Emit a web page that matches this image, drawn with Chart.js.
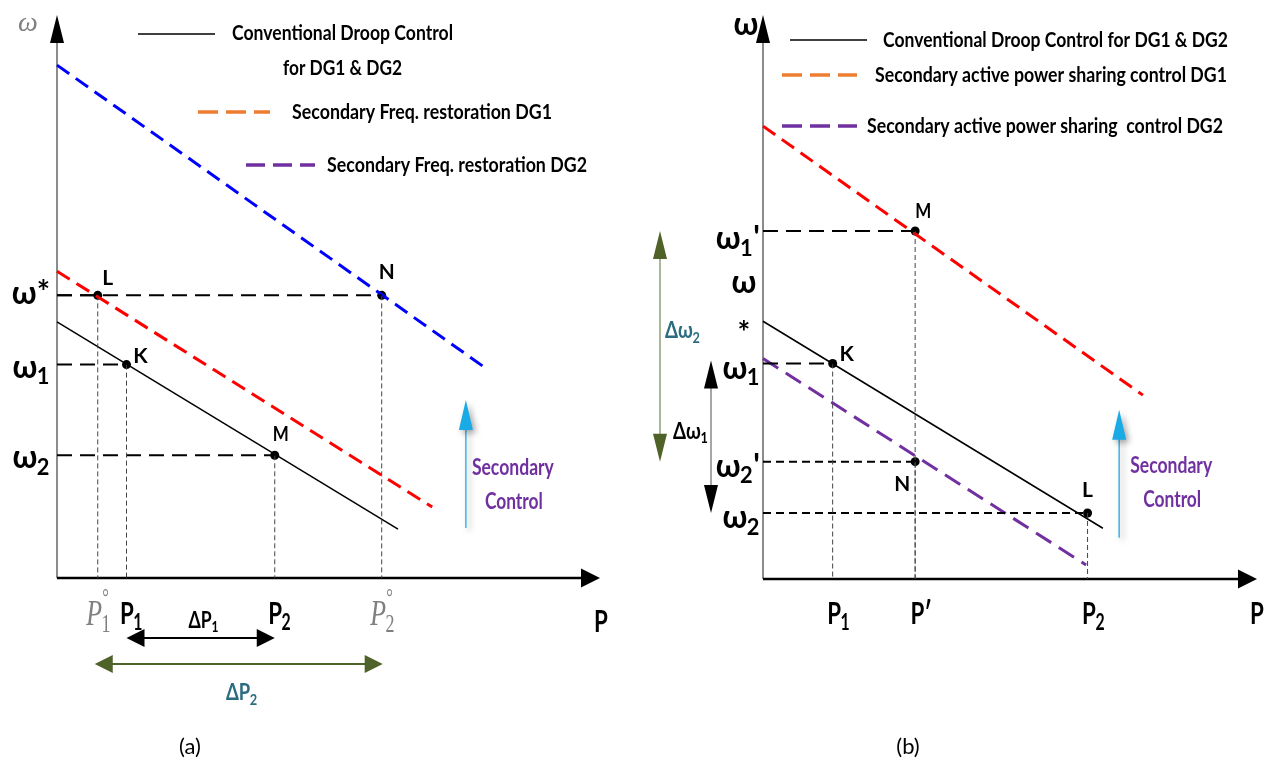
<!DOCTYPE html>
<html>
<head>
<meta charset="utf-8">
<script src="https://cdn.jsdelivr.net/npm/chart.js@4.4.1/dist/chart.umd.min.js"></script>
<style>
html, body { margin: 0; padding: 0; background: #fff; }
#wrap { position: relative; width: 1268px; height: 767px; }
canvas { position: absolute; top: 0; }
#panelA { left: 0; }
#panelB { left: 634px; }
</style>
</head>
<body>
<div id="wrap">
  <canvas id="panelA" width="634" height="767"></canvas>
  <canvas id="panelB" width="634" height="767"></canvas>
</div>
<script>
// panel (a): secondary frequency restoration
const droopP_a = [0, 6.28]
const droopW_a = [4.55, 0.87]
const restoreDG1P_a = [0, 6.91]
const restoreDG1W_a = [5.45, 1.26]
const restoreDG2P_a = [0, 7.92]
const restoreDG2W_a = [9.11, 3.71]
const pointNames_a = ['L', 'K', 'M', 'N']
const pointP_a = [0.75, 1.28, 4.01, 5.98]
const pointW_a = [5.02, 3.79, 2.18, 5.02]
const wTickLabels_a = ['ω*', 'ω1', 'ω2']
const wTickValues_a = [5.02, 3.79, 2.18]
const pTickLabels_a = ['P1°', 'P1', 'P2', 'P2°']
const pTickValues_a = [0.75, 1.28, 4.01, 5.98]
const secondaryP_a = 7.53
const secondaryW_a = [0.89, 3.16]

// panel (b): secondary active power sharing
const droopP_b = [0, 6.88]
const droopW_b = [4.57, 0.90]
const sharingDG1P_b = [0, 7.69]
const sharingDG1W_b = [8.03, 3.26]
const sharingDG2P_b = [0, 6.54]
const sharingDG2W_b = [3.91, 0.25]
const pointNames_b = ['M', 'K', 'N', 'L']
const pointP_b = [3.08, 1.41, 3.08, 6.57]
const pointW_b = [6.17, 3.82, 2.08, 1.17]
const wTickLabels_b = ["ω1'", 'ω1', "ω2'", 'ω2']
const wTickValues_b = [6.17, 3.82, 2.08, 1.17]
const pTickLabels_b = ['P1', 'P′', 'P2']
const pTickValues_b = [1.41, 3.08, 6.57]
const secondaryP_b = 7.21
const secondaryW_b = [0.73, 3.0]

const FONT = "Lato, 'Liberation Sans', 'DejaVu Sans', sans-serif"
const SERIF = "'Liberation Serif', 'DejaVu Serif', serif"
const TEAL = '#2b6c80'
const OLIVE = '#4f6228'
const PURPLE = '#7030a0'

// build a line dataset from two arrays
const lineSet = (xs, ys, color, dash, width) => ({
  data: xs.map((x, i) => ({ x, y: ys[i] })),
  showLine: true,
  borderColor: color,
  borderWidth: width,
  borderDash: dash,
  pointRadius: 0,
  clip: false
})

// dashed guides from each point to both axes
const guideSets = (ps, ws, hDash) => {
  const sets = []
  ps.forEach((p, i) => {
    sets.push(lineSet([0, p], [ws[i], ws[i]], '#000', hDash[i], 2))
    sets.push(lineSet([p, p], [ws[i], 0], '#444', [5, 3], 1))
  })
  return sets
}

const pointSet = (ps, ws) => ({
  data: ps.map((x, i) => ({ x, y: ws[i] })),
  showLine: false,
  pointRadius: 4.5,
  pointBackgroundColor: '#000',
  pointBorderWidth: 0,
  clip: false
})

// small canvas helpers
const seg = (ctx, x1, y1, x2, y2) => {
  ctx.beginPath(); ctx.moveTo(x1, y1); ctx.lineTo(x2, y2); ctx.stroke()
}
const head = (ctx, tx, ty, dx, dy, len, half, color) => {
  ctx.fillStyle = color
  ctx.beginPath()
  ctx.moveTo(tx, ty)
  ctx.lineTo(tx - dx * len - dy * half, ty - dy * len + dx * half)
  ctx.lineTo(tx - dx * len + dy * half, ty - dy * len - dx * half)
  ctx.closePath()
  ctx.fill()
}
const text = (ctx, s, x, y, font, color, align, maxW) => {
  ctx.font = font; ctx.fillStyle = color; ctx.textAlign = align || 'left'; ctx.textBaseline = 'middle'
  if (maxW) ctx.fillText(s, x, y, maxW); else ctx.fillText(s, x, y)
}

// label like ω1' : main glyphs, digit subscript, trailing mark
const drawLabel = (ctx, label, x, y, o) => {
  const m = label.match(/^(\D+?)(\d?)(\D*)$/)
  const size = o.size
  const style = o.style || 'bold'
  const fam = o.family || FONT
  const sx = o.sx || 1
  const mainFont = `${style} ${size}px ${fam}`
  const subFont = `${o.subStyle || style} ${Math.round(size * 0.7)}px ${fam}`
  ctx.save()
  ctx.fillStyle = o.color || '#000'
  ctx.textAlign = 'left'
  ctx.textBaseline = 'alphabetic'
  ctx.font = mainFont
  const w1 = ctx.measureText(m[1]).width
  ctx.font = subFont
  const w2 = m[2] ? ctx.measureText(m[2]).width : 0
  ctx.font = mainFont
  const w3 = (m[3] && m[3] !== '°') ? ctx.measureText(m[3]).width : 0
  const total = (w1 + w2 + w3) * sx
  const left = o.align === 'center' ? x - total / 2 : (o.align === 'right' ? x - total : x)
  ctx.translate(left, y)
  ctx.scale(sx, 1)
  ctx.font = mainFont
  ctx.fillText(m[1], 0, 0)
  if (m[2]) { ctx.font = subFont; ctx.fillText(m[2], w1 - size * 0.02, size * 0.2) }
  if (m[3] === '°') {
    ctx.font = `${Math.round(size * 0.65)}px ${fam}`
    ctx.fillText('°', w1, -size * 0.55)
  } else if (m[3]) {
    ctx.font = mainFont
    ctx.fillText(m[3], w1 + w2, 0)
  }
  ctx.restore()
}

const drawAxes = (chart) => {
  const { ctx, chartArea: a } = chart
  ctx.save()
  ctx.strokeStyle = '#8c8c8c'; ctx.lineWidth = 2
  seg(ctx, a.left, a.bottom, a.left, a.top + 20)
  head(ctx, a.left, a.top, 0, -1, 28, 7, '#000')
  ctx.strokeStyle = '#000'; ctx.lineWidth = 2.5
  seg(ctx, a.left, a.bottom, a.right - 15, a.bottom)
  head(ctx, a.right, a.bottom, 1, 0, 19, 9.5, '#000')
  ctx.restore()
}

const pointLabels = (chart, names, ps, ws, offsets) => {
  const { ctx, scales: { x, y } } = chart
  names.forEach((n, i) => {
    const o = offsets[n]
    text(ctx, n, x.getPixelForValue(ps[i]) + o[0], y.getPixelForValue(ws[i]) + o[1], `bold 21px ${FONT}`, '#000', 'center', 16)
  })
}

const secondaryArrow = (chart, p, ws) => {
  const { ctx, scales: { x, y } } = chart
  const px = x.getPixelForValue(p)
  const y1 = y.getPixelForValue(ws[0])
  const y2 = y.getPixelForValue(ws[1])
  ctx.save()
  ctx.shadowColor = 'rgba(0,0,0,0.35)'; ctx.shadowBlur = 6; ctx.shadowOffsetX = 3; ctx.shadowOffsetY = 3
  ctx.strokeStyle = '#3ab4e8'; ctx.lineWidth = 1.5
  seg(ctx, px, y1, px, y2 + 20)
  head(ctx, px, y2, 0, -1, 30, 7, '#1aaae6')
  ctx.restore()
  return { px, mid: (y1 + y2) / 2 }
}

const legendLine = (ctx, x1, x2, y, color, dash, width) => {
  ctx.save()
  ctx.strokeStyle = color; ctx.lineWidth = width; ctx.setLineDash(dash)
  seg(ctx, x1, y, x2, y)
  ctx.restore()
}

const LEGEND = `bold 21px ${FONT}`
const CAPTION = `22px ${FONT}`

const panelAPlugin = {
  id: 'panelA',
  beforeDatasetsDraw: drawAxes,
  afterDatasetsDraw (chart) {
    const { ctx, chartArea: a, scales: { x, y } } = chart
    ctx.save()
    // top axis label
    text(ctx, 'ω', 28, 24, `italic 28px ${SERIF}`, '#808080', 'center')
    // legend
    legendLine(ctx, 138, 215, 34, '#000', [], 1.5)
    text(ctx, 'Conventional Droop Control', 232, 33, LEGEND, '#000', 'left', 221)
    text(ctx, 'for DG1 & DG2', 283, 68, LEGEND, '#000', 'left', 119)
    legendLine(ctx, 198, 270, 112, '#ed7d31', [20, 8], 3.5)
    text(ctx, 'Secondary Freq. restoration DG1', 292, 112, LEGEND, '#000', 'left', 260)
    legendLine(ctx, 246, 315, 165, PURPLE, [19, 8], 3.5)
    text(ctx, 'Secondary Freq. restoration DG2', 327, 165, LEGEND, '#000', 'left', 260)
    // omega ticks
    wTickLabels_a.forEach((l, i) => {
      const py = y.getPixelForValue(wTickValues_a[i])
      drawLabel(ctx, l, a.left - 7, py + (l === 'ω*' ? 9 : 13), { size: 33, align: 'right', sx: 0.95 })
    })
    // P ticks
    pTickLabels_a.forEach((l, i) => {
      const px = x.getPixelForValue(pTickValues_a[i])
      if (l.endsWith('°')) {
        drawLabel(ctx, l, px + 1, a.bottom + 47, { size: 36, style: 'italic', subStyle: 'normal', family: SERIF, color: '#7f7f7f', align: 'center', sx: 0.72 })
      } else {
        drawLabel(ctx, l, px + 5, a.bottom + 46, { size: 31, align: 'center', sx: 0.72 })
      }
    })
    drawLabel(ctx, 'P', a.right + 1, a.bottom + 54, { size: 31, align: 'center', sx: 0.72 })
    // delta P arrows
    const p1 = x.getPixelForValue(pTickValues_a[1])
    const p2 = x.getPixelForValue(pTickValues_a[2])
    ctx.strokeStyle = '#000'; ctx.lineWidth = 2
    seg(ctx, p1 + 15, a.bottom + 60, p2 - 15, a.bottom + 60)
    head(ctx, p1, a.bottom + 60, -1, 0, 18, 9, '#000')
    head(ctx, p2, a.bottom + 60, 1, 0, 18, 9, '#000')
    drawLabel(ctx, 'ΔP1', (p1 + p2) / 2 + 3, a.bottom + 50, { size: 22, align: 'center', sx: 0.8 })
    const q1 = x.getPixelForValue(pTickValues_a[0]) - 3
    const q2 = x.getPixelForValue(pTickValues_a[3]) + 1
    ctx.strokeStyle = OLIVE; ctx.lineWidth = 2
    seg(ctx, q1 + 15, a.bottom + 86, q2 - 15, a.bottom + 86)
    head(ctx, q1, a.bottom + 86, -1, 0, 18, 9, OLIVE)
    head(ctx, q2, a.bottom + 86, 1, 0, 18, 9, OLIVE)
    drawLabel(ctx, 'ΔP2', (q1 + q2) / 2 + 3, a.bottom + 122, { size: 23, align: 'center', sx: 0.8, color: TEAL })
    // secondary control
    const s = secondaryArrow(chart, secondaryP_a, secondaryW_a)
    text(ctx, 'Secondary', s.px + 47, s.mid + 4, `bold 22px ${FONT}`, PURPLE, 'center', 82)
    text(ctx, 'Control', s.px + 48, s.mid + 38, `bold 22px ${FONT}`, PURPLE, 'center', 58)
    pointLabels(chart, pointNames_a, pointP_a, pointW_a, { L: [10, -17], K: [14, -8], M: [6, -21], N: [5, -23] })
    // caption
    text(ctx, '(a)', 190, 747, CAPTION, '#000', 'center')
    ctx.restore()
  }
}

const panelBPlugin = {
  id: 'panelB',
  beforeDatasetsDraw: drawAxes,
  afterDatasetsDraw (chart) {
    const { ctx, chartArea: a, scales: { x, y } } = chart
    ctx.save()
    drawLabel(ctx, 'ω', a.left - 17, 35, { size: 33, align: 'center', sx: 0.95 })
    // legend
    legendLine(ctx, 156, 233, 40, '#000', [], 1.5)
    text(ctx, 'Conventional Droop Control for DG1 & DG2', 249, 40, LEGEND, '#000', 'left', 345)
    legendLine(ctx, 148, 223, 75, '#ed7d31', [20, 8], 3.5)
    text(ctx, 'Secondary active power sharing control DG1', 241, 75, LEGEND, '#000', 'left', 352)
    legendLine(ctx, 148, 223, 126, PURPLE, [20, 8], 3.5)
    text(ctx, 'Secondary active power sharing  control DG2', 233, 126, LEGEND, '#000', 'left', 356)
    // omega ticks
    wTickLabels_b.forEach((l, i) => {
      const py = y.getPixelForValue(wTickValues_b[i])
      drawLabel(ctx, l, a.left - 3, py + (i === 0 ? 18 : 15), { size: 33, align: 'right', sx: 0.95 })
    })
    const w0 = y.getPixelForValue(droopW_b[0])
    drawLabel(ctx, 'ω', a.left - 19, w0 - 28, { size: 33, align: 'center', sx: 0.95 })
    text(ctx, '*', a.left - 19, w0 + 12, `bold 30px ${FONT}`, '#000', 'center')
    // P ticks
    pTickLabels_b.forEach((l, i) => {
      const px = x.getPixelForValue(pTickValues_b[i])
      drawLabel(ctx, l, px + 6, a.bottom + 45, { size: 31, align: 'center', sx: 0.72 })
    })
    drawLabel(ctx, 'P', a.right, a.bottom + 45, { size: 31, align: 'center', sx: 0.72 })
    // delta omega arrows
    const t1 = y.getPixelForValue(wTickValues_b[0])
    const t2 = y.getPixelForValue(wTickValues_b[2])
    const ax2 = a.left - 103
    ctx.strokeStyle = '#a8b898'; ctx.lineWidth = 2
    seg(ctx, ax2, t1 + 25, ax2, t2 - 25)
    head(ctx, ax2, t1, 0, -1, 28, 7, OLIVE)
    head(ctx, ax2, t2, 0, 1, 28, 7, OLIVE)
    drawLabel(ctx, 'Δω2', a.left - 98, (t1 + t2) / 2 - 8, { size: 22, align: 'left', sx: 0.85, color: TEAL })
    const u1 = y.getPixelForValue(wTickValues_b[1]) - 3
    const u2 = y.getPixelForValue(wTickValues_b[3])
    const ax1 = a.left - 52
    ctx.strokeStyle = '#888'; ctx.lineWidth = 1.5
    seg(ctx, ax1, u1 + 25, ax1, u2 - 25)
    head(ctx, ax1, u1, 0, -1, 28, 7, '#000')
    head(ctx, ax1, u2, 0, 1, 28, 7, '#000')
    drawLabel(ctx, 'Δω1', a.left - 90, (u1 + u2) / 2 + 2, { size: 22, align: 'left', sx: 0.85 })
    // secondary control
    const s = secondaryArrow(chart, secondaryP_b, secondaryW_b)
    text(ctx, 'Secondary', s.px + 52, s.mid - 8, `bold 22px ${FONT}`, PURPLE, 'center', 82)
    text(ctx, 'Control', s.px + 53, s.mid + 26, `bold 22px ${FONT}`, PURPLE, 'center', 58)
    pointLabels(chart, pointNames_b, pointP_b, pointW_b, { M: [8, -20], K: [14, -9], N: [-13, 23], L: [0, -23] })
    text(ctx, '(b)', 274, 747, CAPTION, '#000', 'center')
    ctx.restore()
  }
}

const hiddenScales = {
  x: { type: 'linear', min: 0, max: 10, display: false },
  y: { type: 'linear', min: 0, max: 10, display: false }
}

const baseOptions = (padding) => ({
  responsive: false,
  animation: false,
  layout: { padding },
  plugins: { legend: { display: false }, tooltip: { enabled: false } },
  scales: hiddenScales
})

const chartA = new Chart(document.getElementById('panelA'), {
  type: 'scatter',
  data: {
    datasets: [
      ...guideSets(pointP_a, pointW_a, [[15, 8], [15, 8], [15, 8], [15, 8]]),
      lineSet(droopP_a, droopW_a, '#000', [], 1.5),
      lineSet(restoreDG1P_a, restoreDG1W_a, '#ff0000', [15, 8], 3),
      lineSet(restoreDG2P_a, restoreDG2W_a, '#0000ff', [15, 8], 3),
      pointSet(pointP_a, pointW_a)
    ]
  },
  options: baseOptions({ left: 57, top: 15, right: 34, bottom: 189 }),
  plugins: [panelAPlugin]
})

const chartB = new Chart(document.getElementById('panelB'), {
  type: 'scatter',
  data: {
    datasets: [
      ...guideSets(pointP_b, pointW_b, [[15, 8], [15, 8], [8, 5], [8, 5]]),
      lineSet(droopP_b, droopW_b, '#000', [], 1.5),
      lineSet(sharingDG1P_b, sharingDG1W_b, '#ff0000', [15, 8], 3),
      lineSet(sharingDG2P_b, sharingDG2W_b, PURPLE, [18, 9], 3),
      pointSet(pointP_b, pointW_b)
    ]
  },
  options: baseOptions({ left: 129, top: 15, right: 11, bottom: 188 }),
  plugins: [panelBPlugin]
})
</script>
</body>
</html>
